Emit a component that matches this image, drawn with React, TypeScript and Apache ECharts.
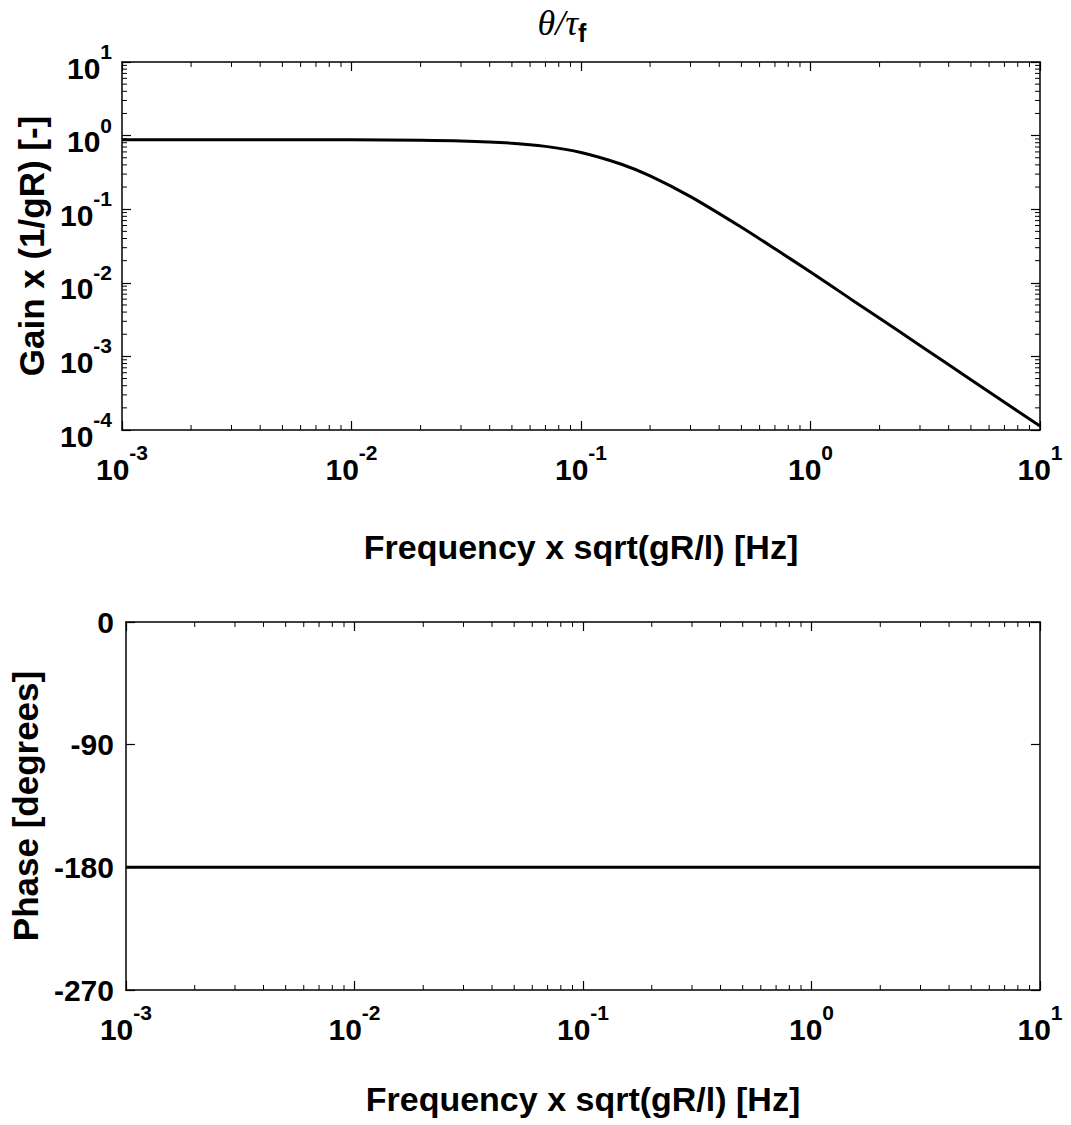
import React, { useEffect, useRef } from "react";
import * as echarts from "echarts";

const freq = [0.001, 0.002, 0.005, 0.01, 0.02, 0.03, 0.05, 0.07, 0.1, 0.15, 0.2, 0.3, 0.5, 0.7, 1, 1.5, 2, 3, 5, 7, 10];
const gain = [0.88, 0.88, 0.879, 0.877, 0.866, 0.847, 0.789, 0.714, 0.589, 0.408, 0.283, 0.148, 0.0568, 0.029, 0.014, 0.006, 0.0033, 0.00141, 0.000483, 0.000238, 0.000113];
const phase = [-180, -180, -180, -180, -180, -180, -180, -180, -180, -180, -180, -180, -180, -180, -180, -180, -180, -180, -180, -180, -180];
const phaseTicks = [0, -90, -180, -270];
const titleText = "θ/τ";
const titleSub = "f";
const xName = "Frequency x sqrt(gR/l) [Hz]";
const gainName = "Gain x (1/gR) [-]";
const phaseName = "Phase [degrees]";

const FONT = "Liberation Sans";
const TICK_FS = 30;
const NAME_FS = 34;

function minorLogValues(lo: number, hi: number): number[] {
  const out: number[] = [];
  for (let e = lo; e < hi; e++) {
    for (let m = 2; m <= 9; m++) out.push(m * Math.pow(10, e));
  }
  return out;
}

const logLabel = (v: number) => {
  const e = Math.round(Math.log10(v));
  return `{b|10}{s|${e}}`;
};

const richLog = {
  b: { fontFamily: FONT, fontWeight: "bold", fontSize: TICK_FS, color: "#000", verticalAlign: "bottom", lineHeight: 42 },
  s: { fontFamily: FONT, fontWeight: "bold", fontSize: 21, color: "#000", verticalAlign: "top", lineHeight: 42 },
};

export default function App() {
  const ref = useRef<HTMLDivElement>(null);
  useEffect(() => {
    if (!ref.current) return;
    const chart = echarts.init(ref.current, null, { renderer: "svg" });
    const axisLine = { show: true, onZero: false, lineStyle: { color: "#000", width: 1.5 } };
    const tickIn = { show: true, inside: true, length: 9, lineStyle: { color: "#000", width: 1.2 } };
    const xMinor = minorLogValues(-3, 1);
    const yMinor = minorLogValues(-4, 1);

    const xBase = (grid: number, pos: "bottom" | "top", labels: boolean, gap: number) => ({
      type: "log",
      logBase: 10,
      gridIndex: grid,
      position: pos,
      min: 0.001,
      max: 10,
      axisLine,
      axisTick: tickIn,
      splitLine: { show: false },
      minorTick: { show: false },
      axisLabel: labels
        ? { show: true, formatter: logLabel, rich: richLog, margin: 12 }
        : { show: false },
      name: labels ? xName : "",
      nameLocation: "middle",
      nameGap: gap,
      nameTextStyle: { fontFamily: FONT, fontWeight: "bold", fontSize: NAME_FS, color: "#000" },
    });

    const minorX = (xi: number, yi: number, yv: number) => ({
      type: "custom",
      xAxisIndex: xi,
      yAxisIndex: yi,
      silent: true,
      clip: false,
      data: xMinor.map((v) => [v, yv]),
      renderItem: (params: any, api: any) => {
        const x = api.coord([api.value(0), yv])[0];
        const cs = params.coordSys;
        const b = cs.y + cs.height;
        return {
          type: "group",
          children: [
            { type: "line", shape: { x1: x, y1: b, x2: x, y2: b - 5 }, style: { stroke: "#000", lineWidth: 1 } },
            { type: "line", shape: { x1: x, y1: cs.y, x2: x, y2: cs.y + 5 }, style: { stroke: "#000", lineWidth: 1 } },
          ],
        };
      },
    });

    const option: any = {
      animation: false,
      backgroundColor: "#fff",
      grid: [
        { left: 122, right: 31, top: 62, height: 368, show: false },
        { left: 122, right: 31, top: 622, height: 368, show: false },
      ],
      graphic: [
        {
          type: "text",
          x: 562,
          y: 25,
          style: {
            text: `{t|${titleText}}{f|${titleSub}}`,
            align: "center",
            verticalAlign: "middle",
            rich: {
              t: { fontFamily: "Liberation Serif", fontStyle: "italic", fontSize: 36, fill: "#000", color: "#000", verticalAlign: "top", lineHeight: 40 },
              f: { fontFamily: FONT, fontWeight: "bold", fontSize: 25, fill: "#000", color: "#000", verticalAlign: "bottom", lineHeight: 40 },
            },
          },
        },
      ],
      xAxis: [xBase(0, "bottom", true, 100), xBase(0, "top", false, 0), xBase(1, "bottom", true, 92), xBase(1, "top", false, 0)],
      yAxis: [
        {
          type: "log",
          logBase: 10,
          gridIndex: 0,
          position: "left",
          min: 0.0001,
          max: 10,
          axisLine,
          axisTick: tickIn,
          splitLine: { show: false },
          axisLabel: { formatter: logLabel, rich: richLog, margin: 10 },
          name: gainName,
          nameLocation: "middle",
          nameGap: 66,
          nameRotate: 90,
          nameTextStyle: { fontFamily: FONT, fontWeight: "bold", fontSize: 35, color: "#000" },
        },
        {
          type: "log",
          logBase: 10,
          gridIndex: 0,
          position: "right",
          min: 0.0001,
          max: 10,
          axisLine,
          axisTick: tickIn,
          splitLine: { show: false },
          axisLabel: { show: false },
        },
        {
          type: "value",
          gridIndex: 1,
          position: "left",
          min: phaseTicks[3],
          max: phaseTicks[0],
          interval: 90,
          axisLine,
          axisTick: tickIn,
          splitLine: { show: false },
          axisLabel: { fontFamily: FONT, fontWeight: "bold", fontSize: TICK_FS, color: "#000", margin: 12 },
          name: phaseName,
          nameLocation: "middle",
          nameGap: 76,
          nameRotate: 90,
          nameTextStyle: { fontFamily: FONT, fontWeight: "bold", fontSize: 35, color: "#000" },
        },
        {
          type: "value",
          gridIndex: 1,
          position: "right",
          min: phaseTicks[3],
          max: phaseTicks[0],
          interval: 90,
          axisLine,
          axisTick: tickIn,
          splitLine: { show: false },
          axisLabel: { show: false },
        },
      ],
      series: [
        {
          type: "line",
          xAxisIndex: 0,
          yAxisIndex: 0,
          data: freq.map((f, i) => [f, gain[i]]),
          showSymbol: false,
          smooth: 0.25,
          lineStyle: { color: "#000", width: 3 },
        },
        {
          type: "line",
          xAxisIndex: 2,
          yAxisIndex: 2,
          data: freq.map((f, i) => [f, phase[i]]),
          showSymbol: false,
          lineStyle: { color: "#000", width: 3 },
        },
        minorX(0, 0, 1),
        minorX(2, 2, -90),
        {
          type: "custom",
          xAxisIndex: 0,
          yAxisIndex: 0,
          silent: true,
          clip: false,
          data: yMinor.map((v) => [1, v]),
          renderItem: (params: any, api: any) => {
            const y = api.coord([1, api.value(1)])[1];
            const cs = params.coordSys;
            const r = cs.x + cs.width;
            return {
              type: "group",
              children: [
                { type: "line", shape: { x1: cs.x, y1: y, x2: cs.x + 5, y2: y }, style: { stroke: "#000", lineWidth: 1 } },
                { type: "line", shape: { x1: r, y1: y, x2: r - 5, y2: y }, style: { stroke: "#000", lineWidth: 1 } },
              ],
            };
          },
        },
      ],
    };
    chart.setOption(option);
    return () => chart.dispose();
  }, []);
  return <div ref={ref} style={{ position: "absolute", left: 0, top: 0, width: 1071, height: 1125 }} />;
}
